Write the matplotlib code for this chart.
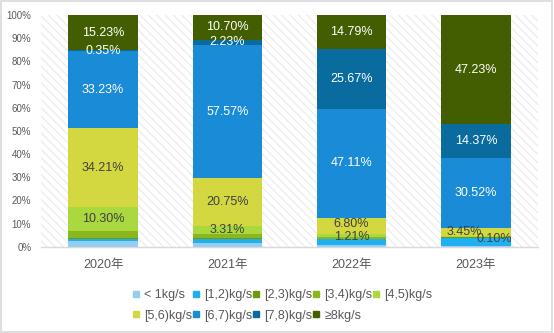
import numpy as np
import matplotlib
matplotlib.use("Agg")
import matplotlib.pyplot as plt
from matplotlib.lines import Line2D
from matplotlib.patches import Rectangle

plt.rcParams['font.family'] = ['Liberation Sans', 'Noto Sans CJK SC', 'DejaVu Sans']
plt.rcParams['hatch.linewidth'] = 0.9
plt.rcParams['hatch.color'] = '#ececec'

years = ['2020年', '2021年', '2022年', '2023年']
series_names = ['< 1kg/s', '[1,2)kg/s', '[2,3)kg/s', '[3,4)kg/s', '[4,5)kg/s',
                '[5,6)kg/s', '[6,7)kg/s', '[7,8)kg/s', '≥8kg/s']
colors = ['#93cdf3', '#20b0f0', '#6a9b0f', '#8bb71d', '#a9d93f',
          '#d3d840', '#1a8bd6', '#0a6c9e', '#425e00']

# share (%) per series, one value per year
lt1 = [2.30, 1.75, 0.80, 0.45]
s1_2 = [1.00, 1.60, 2.40, 3.48]
s2_3 = [0.40, 0.40, 0.35, 0.25]
s3_4 = [2.98, 1.69, 0.87, 0.15]
s4_5 = [10.30, 3.31, 1.21, 0.10]
s5_6 = [34.21, 20.75, 6.80, 3.45]
s6_7 = [33.23, 57.57, 47.11, 30.52]
s7_8 = [0.35, 2.23, 25.67, 14.37]
ge8 = [15.23, 10.70, 14.79, 47.23]
values = [lt1, s1_2, s2_3, s3_4, s4_5, s5_6, s6_7, s7_8, ge8]
labelled = [4, 5, 6, 7, 8]

fig = plt.figure(figsize=(5.54, 3.33), dpi=100)
ax = fig.add_axes([0.074, 0.259, 0.897, 0.696])
ax.patch.set_facecolor('white')
ax.patch.set_hatch('\\\\\\\\')
ax.patch.set_edgecolor('#ececec')
ax.patch.set_linewidth(0)

x = np.arange(len(years))
bottom = np.zeros(len(years))
for i, (name, vals, c) in enumerate(zip(series_names, values, colors)):
    vals = np.array(vals)
    ax.bar(x, vals, 0.56, bottom=bottom, color=c, label=name, zorder=2)
    if i in labelled:
        tc = '#404040' if i in (4, 5) else 'white'
        for j, (xi, b, v) in enumerate(zip(x, bottom, vals)):
            # tiny neighbouring labels are pushed apart a little, as in the original
            dx, dy = 0, 0
            if j == 3 and i == 4:
                dx, dy = 0.15, -1.0
            elif j == 3 and i == 5:
                dx, dy = -0.09, 0.4
            elif j == 2 and i == 4:
                dy = -0.8
            elif j == 2 and i == 5:
                dy = 0.6
            ax.text(xi + dx, b + v / 2 + dy, f'{v:.2f}%', ha='center', va='center',
                    fontsize=9, color=tc, zorder=3)
    bottom += vals

ax.set_xlim(-0.5, 3.5)
ax.set_ylim(0, 100)
ax.set_yticks(np.arange(0, 101, 10))
ax.set_yticklabels([f'{t}%' for t in range(0, 101, 10)])
ax.set_xticks(x)
ax.set_xticklabels(years)
ax.tick_params(axis='y', length=0, pad=7, labelsize=7, labelcolor='#595959')
ax.tick_params(axis='x', length=0, pad=9, labelsize=9, labelcolor='#595959')
for s in ['top', 'right', 'left']:
    ax.spines[s].set_visible(False)
ax.spines['bottom'].set_color('#d9d9d9')
ax.spines['bottom'].set_linewidth(1)

handles = [Line2D([], [], marker='s', linestyle='none', markersize=5,
                  markerfacecolor=c, markeredgecolor=c) for c in colors]
order = [0, 5, 1, 6, 2, 7, 3, 8, 4]
leg = fig.legend([handles[i] for i in order], [series_names[i] for i in order],
                 ncol=5, loc='center', bbox_to_anchor=(0.51, 0.083), frameon=False,
                 fontsize=9, handlelength=0.6, handletextpad=0.35,
                 columnspacing=0.0, labelspacing=0.7)
for t in leg.get_texts():
    t.set_color('#595959')

fig.add_artist(Rectangle((0.002, 0.003), 0.995, 0.994, transform=fig.transFigure,
                         fill=False, edgecolor='#d9d9d9', linewidth=1.2))

fig.savefig('out.png', dpi=100)
